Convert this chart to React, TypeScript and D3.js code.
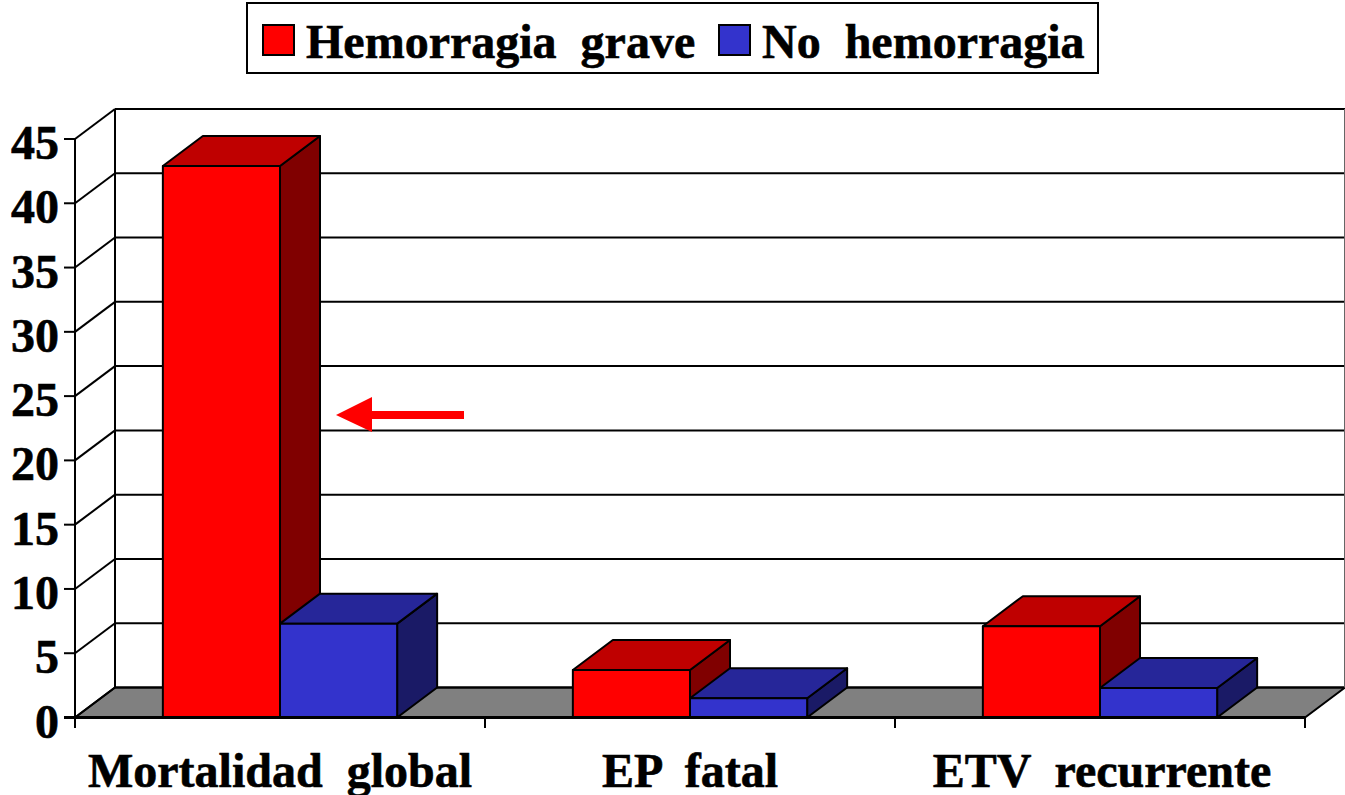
import React from "react";
import * as d3 from "d3";

const categories = ["Mortalidad  global", "EP  fatal", "ETV  recurrente"];
const severeBleeding = [42.9, 3.7, 7.1];
const noBleeding = [7.3, 1.5, 2.3];
const yTicks = [0, 5, 10, 15, 20, 25, 30, 35, 40, 45];
const seriesNames = ["Hemorragia  grave", "No  hemorragia"];
const palettes = [
  { front: "#ff0000", top: "#bf0000", side: "#800000" },
  { front: "#3333cc", top: "#262699", side: "#1a1a66" },
];

const FONT = "'Liberation Serif', 'Times New Roman', serif";
const DX = 40;
const DY = 30;
const LW = 2;
const labelNudge = [0, 0, 2];
const textStyle = { whiteSpace: "pre", stroke: "#000", strokeWidth: 0.6 } as React.CSSProperties;

export default function App() {
  const y = d3.scaleLinear().domain([0, 45]).range([717.5, 139]);
  const x = d3.scaleBand<string>().domain(categories).range([75, 1305]);
  const inner = d3.scaleBand<number>().domain([0, 1]).range([0, x.bandwidth()]).paddingOuter(0.75).paddingInner(0);
  const series = [severeBleeding, noBleeding];
  const y0 = y(0);
  const poly = d3.line();
  const path = (pts: [number, number][]) => poly(pts) + "Z";

  return (
    <svg width={1345} height={795} style={{ position: "absolute", left: 0, top: 0, background: "#fff" }}>
      {/* floor */}
      <path d={path([[75, y0], [75 + DX, y0 - DY], [1305 + DX, y0 - DY], [1305, y0]])} fill="#808080" stroke="#000" strokeWidth={LW} />
      {/* walls and gridlines */}
      {yTicks.map((t) => (
        <g key={t}>
          <line x1={75} x2={75 + DX} y1={y(t)} y2={y(t) - DY} stroke="#000" strokeWidth={LW} />
          <line x1={75 + DX} x2={1345} y1={y(t) - DY} y2={y(t) - DY} stroke="#000" strokeWidth={LW} />
          <line x1={64} x2={75} y1={y(t)} y2={y(t)} stroke="#000" strokeWidth={LW} />
          <text x={59} y={y(t) + 20} textAnchor="end" fontFamily={FONT} fontWeight="bold" fontSize={48} style={textStyle}>{t}</text>
        </g>
      ))}
      <line x1={75} x2={75} y1={y(45)} y2={727} stroke="#000" strokeWidth={LW} />
      <line x1={75 + DX} x2={75 + DX} y1={y(45) - DY} y2={y0 - DY} stroke="#000" strokeWidth={LW} />
      <line x1={1344.5} x2={1344.5} y1={y(45) - DY} y2={y0 - DY} stroke="#666" strokeWidth={1} />
      {/* bars */}
      {categories.map((c, ci) =>
        series.map((vals, si) => {
          const x1 = x(c)! + inner(si)!;
          const x2 = x1 + inner.bandwidth();
          const top = y(vals[ci]);
          const p = palettes[si];
          return (
            <g key={c + si} stroke="#000" strokeWidth={LW} strokeLinejoin="round">
              <path d={path([[x2, y0], [x2 + DX, y0 - DY], [x2 + DX, top - DY], [x2, top]])} fill={p.side} />
              <path d={path([[x1, top], [x1 + DX, top - DY], [x2 + DX, top - DY], [x2, top]])} fill={p.top} />
              <rect x={x1} y={top} width={x2 - x1} height={y0 - top} fill={p.front} />
            </g>
          );
        })
      )}
      {/* front floor edge and category axis */}
      <line x1={64} x2={1305} y1={y0} y2={y0} stroke="#000" strokeWidth={LW + 1} />
      {[75, ...categories.map((c) => x(c)! + x.bandwidth())].map((px) => (
        <line key={px} x1={px} x2={px} y1={y0} y2={728} stroke="#000" strokeWidth={LW} />
      ))}
      {categories.map((c, i) => (
        <text key={c} x={x(c)! + x.bandwidth() / 2 + labelNudge[i]} y={787} textAnchor="middle" fontFamily={FONT} fontWeight="bold" fontSize={48} style={textStyle}>{c}</text>
      ))}
      {/* arrow */}
      <path d="M464 411 L372 411 L372 397 L336 415 L372 432 L372 419 L464 419 Z" fill="#ff0000" />
      {/* legend */}
      <rect x={247} y={3} width={851} height={70} fill="#fff" stroke="#000" strokeWidth={2} />
      <rect x={263} y={25} width={31} height={30} fill={palettes[0].front} stroke="#000" strokeWidth={2} />
      <text x={306} y={58} fontFamily={FONT} fontWeight="bold" fontSize={48} style={textStyle}>{seriesNames[0]}</text>
      <rect x={719} y={25} width={31} height={30} fill={palettes[1].front} stroke="#000" strokeWidth={2} />
      <text x={762} y={58} fontFamily={FONT} fontWeight="bold" fontSize={48} style={textStyle}>{seriesNames[1]}</text>
    </svg>
  );
}
